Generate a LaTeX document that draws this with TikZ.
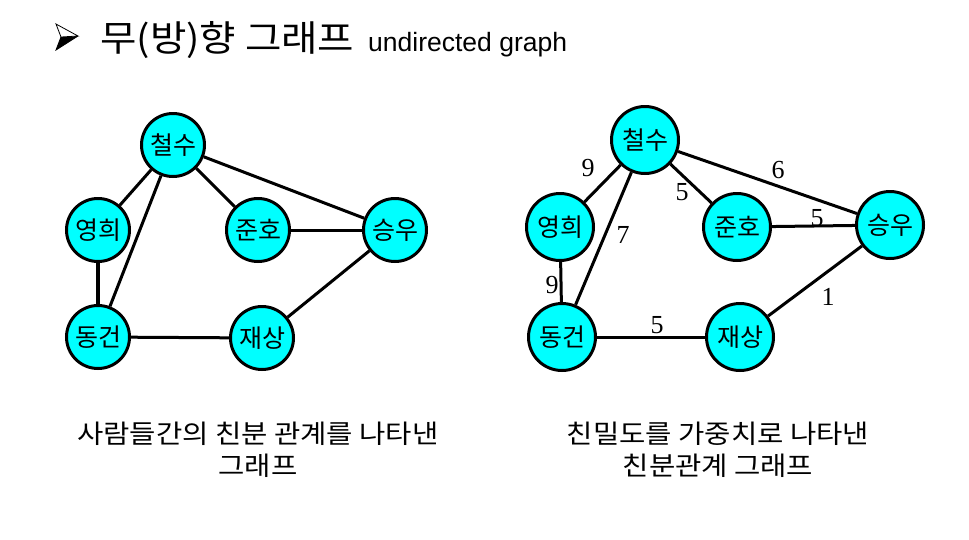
\documentclass[tikz,border=0pt]{standalone}
\usepackage{fontspec}
\setmainfont{Liberation Serif}
\newfontfamily\hangul[FakeStretch=1.1]{Noto Sans CJK KR}
\newfontfamily\hangulnode{Noto Sans CJK KR}
\newfontfamily\arial{Liberation Sans}
\definecolor{nodecyan}{RGB}{0,255,255}

\begin{document}
\begin{tikzpicture}[x=1pt,y=-1pt]
\tikzstyle{person} = [circle, draw=black, line width=3pt, fill=nodecyan, minimum size=63pt, inner sep=0pt, font=\hangulnode\fontsize{25}{25}\selectfont]
\tikzstyle{bigperson} = [person, minimum size=67pt]
\tikzstyle{edge} = [draw=black, line width=3pt]
\tikzstyle{weight} = [inner sep=0pt, font=\fontsize{26}{26}\selectfont]
\tikzstyle{caption} = [align=center, inner sep=0pt, font=\hangul\fontsize{26}{32}\selectfont]

\useasboundingbox (0,0) rectangle (969,539);

% title
\fill[black] (61,37) -- (78,36) -- (56,50) -- cycle;
\draw[black, line width=0.8pt, fill=white] (56,24) -- (78,36) -- (61,37) -- cycle;
\draw[black, line width=0.8pt] (61,37) -- (56,50) -- (78,36);
\node[anchor=base west, inner sep=0pt, font=\hangul\fontsize{36}{36}\selectfont] (title) at (100,51) {무(방)향 그래프};
\node[anchor=base west, inner sep=0pt, font=\arial\fontsize{26.5}{26.5}\selectfont] (subtitle) at (368,51) {undirected graph};

% left graph
\node[person] (C1) at (173,145) {철수};
\node[person] (Y1) at (98,230) {영희};
\node[person] (J1) at (258,230) {준호};
\node[person] (S1) at (395,230) {승우};
\node[person] (D1) at (98,337) {동건};
\node[person] (R1) at (262,338) {재상};

\draw[edge] (C1) -- (Y1);
\draw[edge] (C1) -- (D1);
\draw[edge] (C1) -- (J1);
\draw[edge] (C1) -- (S1);
\draw[edge, line width=4.5pt] (Y1) -- (D1);
\draw[edge] (J1) -- (S1);
\draw[edge] (S1) -- (R1);
\draw[edge] (D1) -- (R1);

% right graph
\node[bigperson] (C2) at (645,140) {철수};
\node[bigperson] (Y2) at (560,227) {영희};
\node[bigperson] (J2) at (737,227) {준호};
\node[bigperson] (S2) at (890,225) {승우};
\node[bigperson] (D2) at (562,337) {동건};
\node[bigperson] (R2) at (740,337) {재상};

\draw[edge] (C2) -- (Y2);
\draw[edge] (C2) -- (D2);
\draw[edge] (C2) -- (J2);
\draw[edge] (C2) -- (S2);
\draw[edge] (Y2) -- (D2);
\draw[edge] (J2) -- (S2);
\draw[edge] (S2) -- (R2);
\draw[edge] (D2) -- (R2);

\node[weight] (wCY) at (588,168) {9};
\node[weight] (wCJ) at (682,192) {5};
\node[weight] (wCS) at (778,170) {6};
\node[weight] (wJS) at (817,218) {5};
\node[weight] (wCD) at (623,235) {7};
\node[weight] (wYD) at (552,285) {9};
\node[weight] (wSR) at (828,297) {1};
\node[weight] (wDR) at (657,325) {5};

% captions
\node[caption] (capL) at (258,450) {사람들간의 친분 관계를 나타낸\\그래프};
\node[caption] (capR) at (718,450) {친밀도를 가중치로 나타낸\\친분관계 그래프};
\end{tikzpicture}
\end{document}
